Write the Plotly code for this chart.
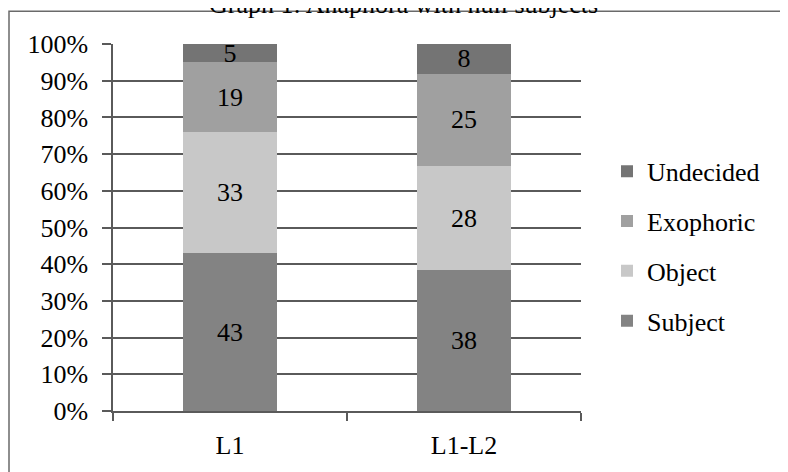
import plotly.graph_objects as go

categories = ["L1", "L1-L2"]
series_names = ["Subject", "Object", "Exophoric", "Undecided"]
subject = [43, 38]
object_ = [33, 28]
exophoric = [19, 25]
undecided = [5, 8]
colors = ["#838383", "#c8c8c8", "#a0a0a0", "#747474"]
legend_ranks = [4, 3, 2, 1]
y_ticks = [0, 10, 20, 30, 40, 50, 60, 70, 80, 90, 100]
y_tick_labels = [f"{v}%" for v in y_ticks]

FONT = "Liberation Serif"
FS = 26

fig = go.Figure()
for i, (name, vals) in enumerate(zip(series_names, [subject, object_, exophoric, undecided])):
    fig.add_trace(go.Bar(
        x=categories, y=vals, name=name,
        marker=dict(color=colors[i], line=dict(width=0)),
        text=[str(v) for v in vals], textposition="inside",
        insidetextanchor="middle", textangle=0,
        textfont=dict(family=FONT, size=FS, color="black"),
        legendgroup=name, legendrank=legend_ranks[i],
        width=0.4,
    ))

# page body has an 8px margin; figure is shrunk so it fits the 788x472 window
OFF = 8
W, H = 788 - OFF, 472 - OFF
# plot area in reference pixels: x 113..581, y 44..415
L, R, T, B = 113 - OFF, 788 - 581, 44 - OFF, 472 - 415
pw, ph = W - L - R, H - T - B

def px_x(x):
    return (x - OFF - L) / pw

def px_y(y):
    return (H - B - (y - OFF)) / ph

fig.update_layout(
    width=W, height=H,
    margin=dict(l=L, r=R, t=T, b=B, pad=0),
    barmode="stack", barnorm="percent",
    paper_bgcolor="white", plot_bgcolor="white",
    font=dict(family=FONT, size=FS, color="black"),
    uniformtext=dict(minsize=FS, mode="show"),
    showlegend=True,
    legend=dict(
        x=px_x(607), xanchor="left", y=px_y(149), yanchor="top",
        traceorder="grouped", tracegroupgap=13,
        font=dict(family=FONT, size=FS, color="black"),
        itemwidth=30, bgcolor="rgba(0,0,0,0)",
    ),
    xaxis=dict(
        showline=True, linecolor="#5a5a5a", linewidth=2,
        ticks="outside", ticklen=8, tickcolor="#5a5a5a", tickwidth=1.5,
        tickson="boundaries", showgrid=False,
        tickfont=dict(family=FONT, size=FS), range=[-0.5, 1.5],
        ticklabelstandoff=10,
    ),
    yaxis=dict(
        range=[0, 100], tickvals=y_ticks, ticktext=y_tick_labels,
        showline=True, linecolor="#5a5a5a", linewidth=1.5,
        showgrid=True, gridcolor="#5a5a5a", gridwidth=1.5,
        ticks="outside", ticklen=9, tickcolor="#5a5a5a", tickwidth=1.5,
        tickfont=dict(family=FONT, size=FS), zeroline=False,
        ticklabelstandoff=9,
    ),
    shapes=[dict(
        type="rect", xref="paper", yref="paper",
        x0=px_x(9), x1=px_x(800), y0=px_y(485), y1=px_y(11),
        line=dict(color="#6a6a6a", width=1.5), fillcolor="rgba(0,0,0,0)",
        layer="below",
    )],
    annotations=[dict(
        text="Graph 1: Anaphora with null subjects",
        xref="paper", yref="paper", x=px_x(403), y=px_y(21),
        xanchor="center", yanchor="bottom", showarrow=False,
        font=dict(family=FONT, size=FS, color="black"),
    )],
)

fig.write_html("out.html")
